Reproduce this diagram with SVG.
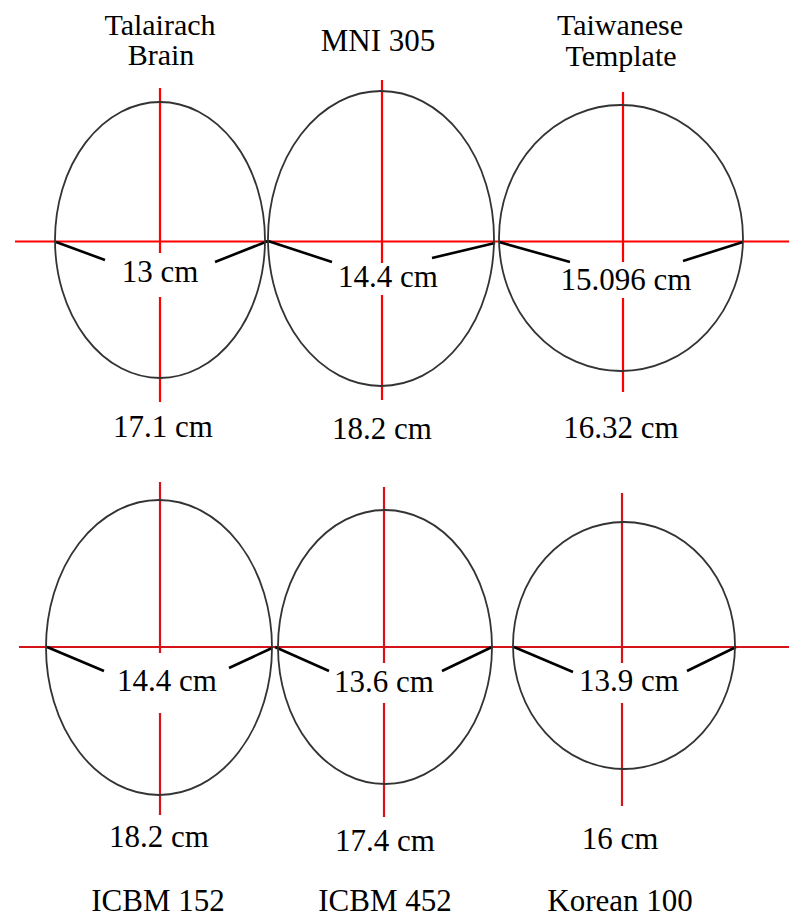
<svg xmlns="http://www.w3.org/2000/svg" width="789" height="920" viewBox="0 0 789 920">
<style>
.head{fill:none;stroke:#333;stroke-width:1.8}
.t{font-family:"Liberation Serif","Times New Roman",Times,Tinos,"DejaVu Serif",serif;font-size:31px;fill:#000;text-anchor:middle}
.h{font-size:30px}
.r1{stroke:#ff0000;stroke-width:2.2;fill:none}
.r2{stroke:#d41418;stroke-width:2.2;fill:none}
.m{stroke:#000;stroke-width:2.6;fill:none}
</style>
<rect width="789" height="920" fill="#fff"/>
<g id="connectors">
  <line class="r1" x1="15" y1="241.5" x2="789" y2="241.5"/>
  <line class="r1" x1="160" y1="88" x2="160" y2="253"/>
  <line class="r1" x1="160" y1="297" x2="160" y2="402"/>
  <line class="r1" x1="382" y1="80" x2="382" y2="263"/>
  <line class="r1" x1="382" y1="295" x2="382" y2="400"/>
  <line class="r1" x1="623" y1="92" x2="623" y2="262"/>
  <line class="r1" x1="623" y1="298" x2="623" y2="392"/>
  <line class="r2" x1="19" y1="647" x2="789" y2="647"/>
  <line class="r2" x1="160" y1="482" x2="160" y2="653"/>
  <line class="r2" x1="160" y1="713" x2="160" y2="815"/>
  <line class="r2" x1="384" y1="487" x2="384" y2="663"/>
  <line class="r2" x1="384" y1="703" x2="384" y2="817"/>
  <line class="r2" x1="622" y1="493" x2="622" y2="663"/>
  <line class="r2" x1="622" y1="703" x2="622" y2="806"/>
  <line class="m" x1="56" y1="242" x2="105" y2="260"/>
  <line class="m" x1="215" y1="262" x2="268" y2="241"/>
  <line class="m" x1="268" y1="241" x2="332" y2="262"/>
  <line class="m" x1="432" y1="258" x2="495" y2="243"/>
  <line class="m" x1="499" y1="242" x2="570" y2="262"/>
  <line class="m" x1="683" y1="261" x2="743" y2="242"/>
  <line class="m" x1="47" y1="647" x2="104" y2="671"/>
  <line class="m" x1="229" y1="668" x2="272" y2="648"/>
  <line class="m" x1="275" y1="647" x2="329" y2="671"/>
  <line class="m" x1="442" y1="671" x2="492" y2="647"/>
  <line class="m" x1="514" y1="647" x2="573" y2="672"/>
  <line class="m" x1="687" y1="671" x2="736" y2="647"/>
</g>
<g id="talairach">
  <ellipse class="head" cx="160" cy="240" rx="105" ry="138"/>
  <text class="t h" x="160" y="35">Talairach</text>
  <text class="t h" x="161" y="65">Brain</text>
  <text class="t" x="160" y="282">13 cm</text>
  <text class="t" x="163" y="437">17.1 cm</text>
</g>
<g id="mni305">
  <ellipse class="head" cx="381" cy="238.5" rx="113" ry="147.5"/>
  <text class="t" x="378" y="51">MNI 305</text>
  <text class="t" x="388" y="287">14.4 cm</text>
  <text class="t" x="382" y="439">18.2 cm</text>
</g>
<g id="taiwanese">
  <ellipse class="head" cx="621" cy="238" rx="122" ry="133"/>
  <text class="t h" x="620" y="35">Taiwanese</text>
  <text class="t h" x="621" y="66">Template</text>
  <text class="t" x="626" y="290">15.096 cm</text>
  <text class="t" x="621" y="438">16.32 cm</text>
</g>
<g id="icbm152">
  <ellipse class="head" cx="159" cy="647.5" rx="113" ry="147.5"/>
  <text class="t" x="167" y="691">14.4 cm</text>
  <text class="t" x="159" y="847">18.2 cm</text>
  <text class="t" x="158" y="911">ICBM 152</text>
</g>
<g id="icbm452">
  <ellipse class="head" cx="385" cy="647" rx="107" ry="137"/>
  <text class="t" x="384" y="692">13.6 cm</text>
  <text class="t" x="385" y="851">17.4 cm</text>
  <text class="t" x="385" y="911">ICBM 452</text>
</g>
<g id="korean100">
  <ellipse class="head" cx="624" cy="645.5" rx="111" ry="123.5"/>
  <text class="t" x="629" y="691">13.9 cm</text>
  <text class="t" x="620" y="849">16 cm</text>
  <text class="t" x="620" y="911">Korean 100</text>
</g>
</svg>
